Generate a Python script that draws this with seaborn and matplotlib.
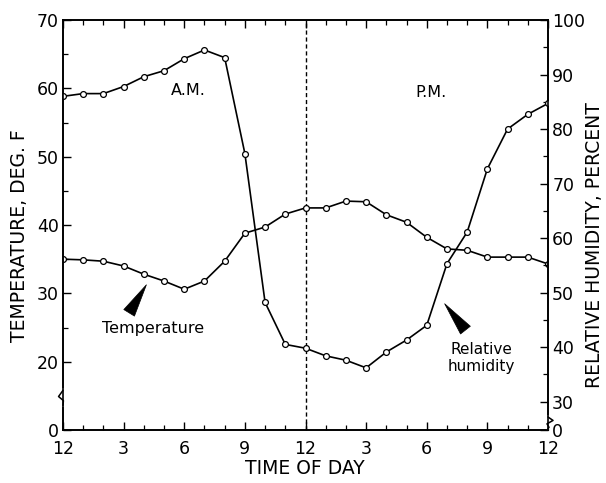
import numpy as np
import pandas as pd
import seaborn as sns
import matplotlib.pyplot as plt
from matplotlib.ticker import FixedLocator

# hourly readings, midnight to midnight
hours = list(range(25))
temperature = [35.0, 34.9, 34.7, 34.0, 32.8, 31.8, 30.6, 31.8, 34.7, 38.8,
               39.7, 41.6, 42.5, 42.5, 43.5, 43.4, 41.5, 40.4, 38.2, 36.5,
               36.3, 35.3, 35.3, 35.3, 34.3]
humidity = [86.0, 86.5, 86.5, 87.8, 89.6, 90.7, 92.9, 94.5, 93.1, 75.5,
            48.2, 40.5, 39.8, 38.4, 37.6, 36.2, 39.1, 41.3, 44.0, 55.3,
            61.1, 72.7, 80.0, 82.7, 84.7]

hour_ticks = [0, 3, 6, 9, 12, 15, 18, 21, 24]
hour_labels = ['12', '3', '6', '9', '12', '3', '6', '9', '12']

# broken axes: the zero is drawn where the next step would be
temp_ticks = [10, 20, 30, 40, 50, 60, 70]
temp_labels = ['0', '20', '30', '40', '50', '60', '70']
rh_ticks = [24.8, 30, 40, 50, 60, 70, 80, 90, 100]
rh_labels = ['0', '30', '40', '50', '60', '70', '80', '90', '100']

df = pd.DataFrame({'hour': hours, 'temp': temperature, 'rh': humidity})

sns.set_style('ticks', rc={'axes.edgecolor': 'black', 'text.color': 'black',
                           'xtick.color': 'black', 'ytick.color': 'black',
                           'axes.labelcolor': 'black'})
plt.rcParams['font.family'] = ['DejaVu Sans']

fig = plt.figure(figsize=(6.06, 4.83), dpi=100)
ax = fig.add_axes([63 / 606, 1 - 430 / 483, 485 / 606, 410 / 483])
ax2 = ax.twinx()

line_kw = dict(color='black', lw=1.2, marker='o', markersize=4.2,
               markerfacecolor='white', markeredgecolor='black',
               markeredgewidth=0.9)
sns.lineplot(data=df, x='hour', y='temp', ax=ax, **line_kw)
sns.lineplot(data=df, x='hour', y='rh', ax=ax2, **line_kw)

ax.axvline(12, color='black', lw=1, ls=(0, (3, 2)), zorder=1)

ax.set_xlim(0, 24)
ax.set_ylim(10, 70)
ax2.set_ylim(24.8, 100)

ax.set_xticks(hour_ticks)
ax.set_xticklabels(hour_labels)
ax.xaxis.set_minor_locator(FixedLocator(hours))
ax.set_yticks(temp_ticks)
ax.set_yticklabels(temp_labels)
ax.yaxis.set_minor_locator(FixedLocator([25, 35, 45, 55, 65]))
ax2.set_yticks(rh_ticks)
ax2.set_yticklabels(rh_labels)
ax2.yaxis.set_minor_locator(FixedLocator([35, 45, 55, 65, 75, 85, 95]))

ax.set_xlabel('')
ax.set_ylabel('')
ax2.set_ylabel('')

for a in (ax, ax2):
    a.tick_params(which='major', direction='in', length=6, width=1,
                  labelsize=12.5, pad=3)
    a.tick_params(which='minor', direction='in', length=3.5, width=0.9)
    for s in a.spines.values():
        s.set_linewidth(1.2)
ax.tick_params(which='both', top=True)
ax.tick_params(axis='x', pad=7)

# axis break marks
ax.plot([0, 0], [13.6, 15.8], color='white', lw=3, clip_on=False, zorder=5)
ax.plot([0, -0.22, 0.02, 0], [15.8, 14.9, 14.3, 13.6], color='black',
        lw=1.1, clip_on=False, zorder=6)
ax.plot([24, 24], [10.3, 11.9], color='white', lw=3, clip_on=False, zorder=5)
ax.plot([24, 24.25, 23.95, 24.05, 24], [11.9, 11.4, 10.9, 10.4, 10.2],
        color='black', lw=1.1, clip_on=False, zorder=6)

ax.text(6.2, 59.7, 'A.M.', fontsize=11.5, ha='center', va='center')
ax.text(18.2, 59.4, 'P.M.', fontsize=11.5, ha='center', va='center')
ax.text(4.45, 24.8, 'Temperature', fontsize=11.5, ha='center', va='center')
ax.text(20.7, 20.5, 'Relative\nhumidity', fontsize=11, ha='center',
        va='center', linespacing=1.2)

wedge = dict(arrowstyle='wedge,tail_width=0.9,shrink_factor=0.5',
             fc='black', ec='black', lw=0.5)
ax.annotate('', xy=(4.2, 31.6), xytext=(3.2, 26.8), arrowprops=wedge)
ax.annotate('', xy=(18.8, 28.8), xytext=(20.0, 24.3), arrowprops=wedge)

fig.text(20 / 606, 1 - 236 / 483, 'TEMPERATURE, DEG. F', rotation=90,
         ha='center', va='center', fontsize=13.5)
fig.text(594 / 606, 1 - 245 / 483, 'RELATIVE HUMIDITY, PERCENT', rotation=90,
         ha='center', va='center', fontsize=13.5)
fig.text(305 / 606, 1 - 468 / 483, 'TIME OF DAY', ha='center', va='center',
         fontsize=13.5)

fig.savefig('out.png', dpi=100)
